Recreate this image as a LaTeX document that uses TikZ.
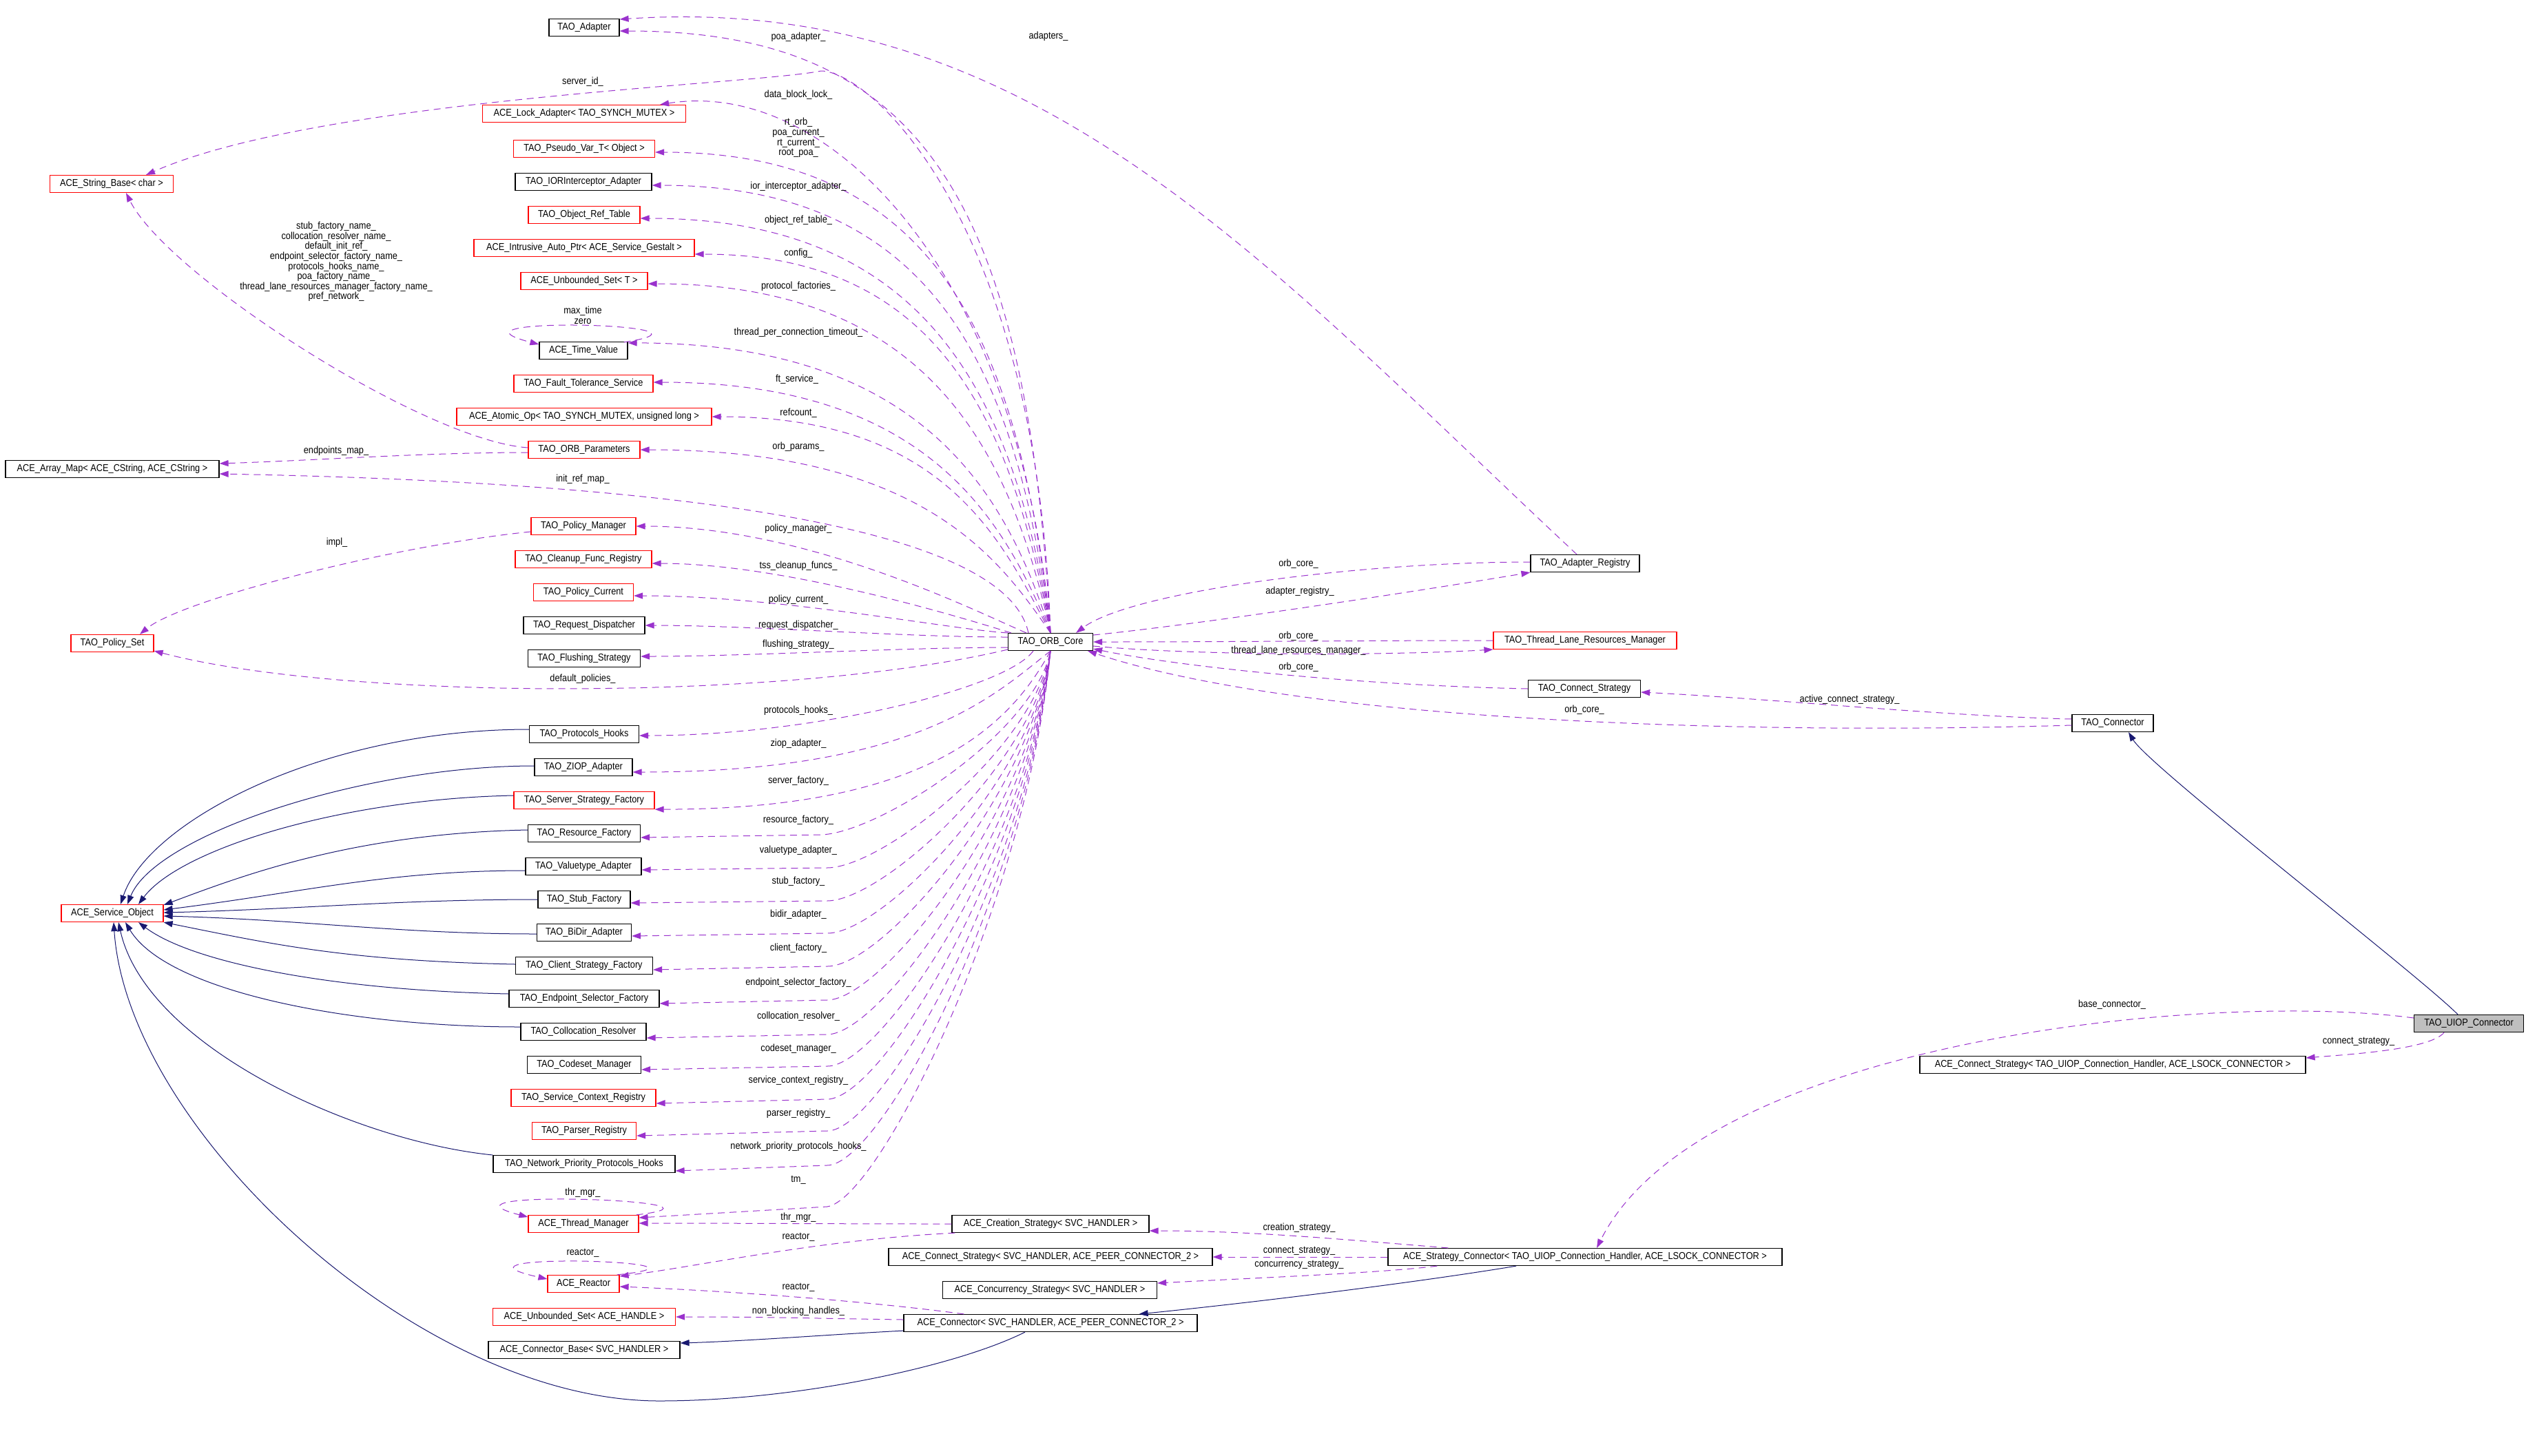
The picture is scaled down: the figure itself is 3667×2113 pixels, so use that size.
\documentclass[tikz,border=0pt]{standalone}
\usepackage{fontspec}
\setmainfont{Liberation Sans}[FakeStretch=0.88]
\usetikzlibrary{arrows.meta,calc}
\definecolor{memc}{HTML}{9A32CD}
\definecolor{inhc}{HTML}{191970}
\newcommand{\boxfnt}{\fontsize{14.5}{14.6}\selectfont}
\begin{document}
\begin{tikzpicture}[x=1pt,y=-1pt,
  cls/.style={draw=black, line width=1.2pt, fill=white, minimum height=25pt, inner xsep=2pt, inner ysep=0pt, font=\boxfnt},
  rcls/.style={cls, draw=red},
  gcls/.style={cls, fill=black!25},
  lbl/.style={font=\boxfnt, inner sep=0pt, align=center},
  mem/.style={draw=memc, line width=1pt, dash pattern=on 10pt off 7pt, -{Triangle[length=13pt,width=9pt]}},
  memr/.style={draw=memc, line width=1pt, dash pattern=on 10pt off 7pt, {Triangle[length=13pt,width=9pt]}-},
  inh/.style={draw=inhc, line width=1pt, -{Triangle[length=13pt,width=9pt]}}]
\fill[white] (0,0) rectangle (3667,2113);
\useasboundingbox (0,0) rectangle (3667,2113);

% ---------- left column ----------
\node[cls, minimum width=102pt] (adapter) at (848,40) {TAO\_Adapter};
\node[rcls, minimum width=295pt] (lock) at (848,165) {ACE\_Lock\_Adapter< TAO\_SYNCH\_MUTEX >};
\node[rcls, minimum width=205pt] (pseudo) at (848,216) {TAO\_Pseudo\_Var\_T< Object >};
\node[cls, minimum width=198pt] (ior) at (847,264) {TAO\_IORInterceptor\_Adapter};
\node[rcls, minimum width=162pt] (objref) at (848,312) {TAO\_Object\_Ref\_Table};
\node[rcls, minimum width=320pt] (intrusive) at (848,360) {ACE\_Intrusive\_Auto\_Ptr< ACE\_Service\_Gestalt >};
\node[rcls, minimum width=184pt] (uset) at (848,408) {ACE\_Unbounded\_Set< T >};
\node[cls, minimum width=128pt] (timeval) at (847,509) {ACE\_Time\_Value};
\node[rcls, minimum width=202pt] (ft) at (847,557) {TAO\_Fault\_Tolerance\_Service};
\node[rcls, minimum width=370pt] (atomic) at (848,605) {ACE\_Atomic\_Op< TAO\_SYNCH\_MUTEX, unsigned long >};
\node[rcls, minimum width=162pt] (orbparams) at (848,653) {TAO\_ORB\_Parameters};
\node[rcls, minimum width=152pt] (policymgr) at (847,764) {TAO\_Policy\_Manager};
\node[rcls, minimum width=198pt] (cleanup) at (847,812) {TAO\_Cleanup\_Func\_Registry};
\node[rcls, minimum width=145pt] (policycur) at (847,860) {TAO\_Policy\_Current};
\node[cls, minimum width=176pt] (reqdisp) at (848,908) {TAO\_Request\_Dispatcher};
\node[cls, minimum width=163pt] (flush) at (848,956) {TAO\_Flushing\_Strategy};
\node[cls, minimum width=159pt] (phooks) at (848,1066) {TAO\_Protocols\_Hooks};
\node[cls, minimum width=142pt] (ziop) at (847,1114) {TAO\_ZIOP\_Adapter};
\node[rcls, minimum width=204pt] (ssf) at (848,1162) {TAO\_Server\_Strategy\_Factory};
\node[cls, minimum width=163pt] (resf) at (848,1210) {TAO\_Resource\_Factory};
\node[cls, minimum width=168pt] (valuetype) at (847,1258) {TAO\_Valuetype\_Adapter};
\node[cls, minimum width=134pt] (stubf) at (848,1306) {TAO\_Stub\_Factory};
\node[cls, minimum width=137pt] (bidir) at (848,1354) {TAO\_BiDir\_Adapter};
\node[cls, minimum width=199pt] (csf) at (848,1402) {TAO\_Client\_Strategy\_Factory};
\node[cls, minimum width=218pt] (esf) at (848,1450) {TAO\_Endpoint\_Selector\_Factory};
\node[cls, minimum width=182pt] (coll) at (847,1498) {TAO\_Collocation\_Resolver};
\node[cls, minimum width=165pt] (codeset) at (848,1546) {TAO\_Codeset\_Manager};
\node[rcls, minimum width=210pt] (scr) at (847,1594) {TAO\_Service\_Context\_Registry};
\node[rcls, minimum width=151pt] (parser) at (848,1642) {TAO\_Parser\_Registry};
\node[cls, minimum width=264pt] (nph) at (848,1690) {TAO\_Network\_Priority\_Protocols\_Hooks};
\node[rcls, minimum width=160pt] (thrmgr) at (847,1777) {ACE\_Thread\_Manager};
\node[rcls, minimum width=104pt] (reactor) at (847,1864) {ACE\_Reactor};
\node[rcls, minimum width=265pt] (usethandle) at (848,1912) {ACE\_Unbounded\_Set< ACE\_HANDLE >};
\node[cls, minimum width=278pt] (connbase) at (848,1960) {ACE\_Connector\_Base< SVC\_HANDLER >};

% ---------- far left ----------
\node[rcls, minimum width=179pt] (strbase) at (162,267) {ACE\_String\_Base< char >};
\node[cls, minimum width=310pt] (arraymap) at (163,681) {ACE\_Array\_Map< ACE\_CString, ACE\_CString >};
\node[rcls, minimum width=120pt] (policyset) at (163,934) {TAO\_Policy\_Set};
\node[rcls, minimum width=148pt] (svcobj) at (163,1326) {ACE\_Service\_Object};

% ---------- center ----------
\node[cls, minimum width=123pt] (orbcore) at (1525,932) {TAO\_ORB\_Core};
\node[cls, minimum width=286pt] (creation) at (1525,1777) {ACE\_Creation\_Strategy< SVC\_HANDLER >};
\node[cls, minimum width=470pt] (connstrat2) at (1525,1825) {ACE\_Connect\_Strategy< SVC\_HANDLER, ACE\_PEER\_CONNECTOR\_2 >};
\node[cls, minimum width=311pt] (concur) at (1524,1873) {ACE\_Concurrency\_Strategy< SVC\_HANDLER >};
\node[cls, minimum width=426pt] (aceconn) at (1525,1921) {ACE\_Connector< SVC\_HANDLER, ACE\_PEER\_CONNECTOR\_2 >};

% ---------- right ----------
\node[cls, minimum width=158pt] (adreg) at (2301,818) {TAO\_Adapter\_Registry};
\node[rcls, minimum width=266pt] (tlrm) at (2301,930) {TAO\_Thread\_Lane\_Resources\_Manager};
\node[cls, minimum width=163pt] (tcs) at (2300,1000) {TAO\_Connect\_Strategy};
\node[cls, minimum width=118pt] (taoconn) at (3067,1050) {TAO\_Connector};
\node[gcls, minimum width=159pt] (uiop) at (3584,1486) {TAO\_UIOP\_Connector};
\node[cls, minimum width=560pt] (uiopcs) at (3067,1546) {ACE\_Connect\_Strategy< TAO\_UIOP\_Connection\_Handler, ACE\_LSOCK\_CONNECTOR >};
\node[cls, minimum width=572pt] (stratconn) at (2301,1825) {ACE\_Strategy\_Connector< TAO\_UIOP\_Connection\_Handler, ACE\_LSOCK\_CONNECTOR >};

% waypoints
\coordinate (wsid) at (1192,103);
\coordinate (wsvc) at (957,2034);

% ---------- member edges from ORB core, upper ----------
\draw[mem] (orbcore.north) .. controls +(-36,-639) and +(432,0) .. ($(adapter.east)+(0,5)$);
\draw[mem] (orbcore.north) .. controls +(-20,-600) and +(70,0) .. (wsid) .. controls +(-100,20) and +(250,-110) .. ($(strbase.north)+(50,0)$);
\draw[mem] (orbcore.north) .. controls +(-43,-515) and +(250,-40) .. ($(lock.north east)+(-38,0)$);
\draw[mem] (orbcore.north) .. controls +(-47,-443) and +(397,0) .. ($(pseudo.east)+(0,5)$);
\draw[mem] (orbcore.north) .. controls +(-50,-396) and +(400,0) .. ($(ior.east)+(0,5)$);
\draw[mem] (orbcore.north) .. controls +(-53,-351) and +(411,0) .. ($(objref.east)+(0,5)$);
\draw[mem] (orbcore.north) .. controls +(-56,-305) and +(357,0) .. ($(intrusive.east)+(0,9)$);
\draw[mem] (orbcore.north) .. controls +(-59,-269) and +(404,0) .. ($(uset.east)+(0,4)$);
\draw[mem] (orbcore.north) .. controls +(-64,-206) and +(424,0) .. ($(timeval.north east)+(0,2)$);
\draw[mem] (orbcore.north) .. controls +(-68,-165) and +(398,0) .. ($(ft.east)+(0,-2)$);
\draw[mem] (orbcore.north) .. controls +(-71,-134) and +(339,0) .. (atomic.east);
\draw[mem] (orbcore.north) .. controls +(-74,-107) and +(411,0) .. (orbparams.east);
\draw[mem] ($(orbcore.north west)+(30,0)$) .. controls +(-34,-160) and +(632,12) .. ($(arraymap.east)+(0,7)$);
\draw[mem] ($(orbcore.north west)+(27,0)$) .. controls +(-71,-30) and +(250,0) .. (policymgr.east);
\draw[mem] ($(orbcore.north west)+(5,0)$) .. controls +(-49,-15) and +(200,0) .. ($(cleanup.east)+(0,6)$);
\draw[mem] (orbcore.north west) .. controls +(-84,-5) and +(210,0) .. ($(policycur.east)+(0,5)$);
\draw[mem] ($(orbcore.west)+(0,-7)$) .. controls +(-150,0) and +(150,0) .. (reqdisp.east);
\draw[mem] ($(orbcore.west)+(0,8)$) .. controls +(-150,0) and +(150,0) .. ($(flush.east)+(0,-3)$);
\draw[mem] ($(orbcore.west)+(0,11)$) .. controls +(-314,75) and +(277,73) .. ($(policyset.east)+(0,11)$);

% ---------- member edges from ORB core, lower ----------
\draw[mem] ($(orbcore.south)+(-25,0)$) .. controls +(-40,55) and +(250,0) .. ($(phooks.east)+(0,2)$);
\draw[mem] (orbcore.south) .. controls +(-80,62) and +(416,0) .. ($(ziop.east)+(0,7)$);
\draw[mem] (orbcore.south) .. controls +(-60,110) and +(394,0) .. (ssf.south east);
\draw[memr] ($(resf.east)+(0,6)$) -- ++(260,-4) .. controls +(80,0) and +(-25,122) .. (orbcore.south);
\draw[memr] ($(valuetype.east)+(0,5)$) -- ++(269,-3) .. controls +(80,0) and +(-25,143) .. (orbcore.south);
\draw[memr] ($(stubf.east)+(0,5)$) -- ++(285,-3) .. controls +(80,0) and +(-25,165) .. (orbcore.south);
\draw[memr] ($(bidir.east)+(0,5)$) -- ++(284,-4) .. controls +(80,0) and +(-25,186) .. (orbcore.south);
\draw[memr] ($(csf.east)+(0,6)$) -- ++(253,-5) .. controls +(80,0) and +(-28,208) .. (orbcore.south);
\draw[memr] ($(esf.east)+(0,7)$) -- ++(243,-5) .. controls +(80,0) and +(-28,230) .. (orbcore.south);
\draw[memr] ($(coll.east)+(0,9)$) -- ++(262,-5) .. controls +(80,0) and +(-30,253) .. (orbcore.south);
\draw[memr] ($(codeset.east)+(0,7)$) -- ++(270,-5) .. controls +(80,0) and +(-30,274) .. (orbcore.south);
\draw[memr] ($(scr.east)+(0,8)$) -- ++(248,-6) .. controls +(80,0) and +(-32,296) .. (orbcore.south);
\draw[memr] ($(parser.east)+(0,7)$) -- ++(277,-7) .. controls +(80,0) and +(-32,317) .. (orbcore.south);
\draw[memr] ($(nph.east)+(0,10)$) -- ++(220,-8) .. controls +(80,0) and +(-34,340) .. (orbcore.south);
\draw[memr] ($(thrmgr.east)+(0,-9)$) -- ++(273,-16) .. controls +(75,-10) and +(-36,370) .. (orbcore.south);

% ---------- other member edges, left ----------
\draw[mem] ($(policymgr.west)+(0,8)$) .. controls +(-200,20) and +(60,-50) .. ($(policyset.north)+(40,0)$);
\draw[mem] ($(orbparams.west)+(0,-3)$) .. controls +(-150,-10) and +(60,120) .. ($(strbase.south)+(21,0)$);
\draw[mem] ($(orbparams.west)+(0,4)$) .. controls +(-150,0) and +(150,-5) .. ($(arraymap.east)+(0,-8)$);
\draw[mem] ($(adreg.north)+(-12,0)$) .. controls +(-450,-420) and +(600,-40) .. ($(adapter.east)+(0,-12)$);
\draw[mem] ($(timeval.north east)+(-6,1)$) .. controls +(175,-27) and +(-163,-42) .. ($(timeval.west)+(0,-9)$);
\draw[mem] ($(thrmgr.north east)+(-4,0)$) .. controls +(179,-21) and +(-163,-42) .. ($(thrmgr.west)+(0,-10)$);
\draw[mem] ($(reactor.north east)+(-4,0)$) .. controls +(190,-20) and +(-180,-40) .. ($(reactor.west)+(0,-7)$);
\draw[mem] (creation.west) .. controls +(-150,0) and +(150,0) .. ($(thrmgr.east)+(0,-1)$);
\draw[mem] ($(creation.south west)+(5,0)$) .. controls +(-200,10) and +(120,-15) .. ($(reactor.east)+(0,-11)$);
\draw[mem] ($(aceconn.north west)+(88,0)$) .. controls +(-150,-20) and +(150,6) .. ($(reactor.east)+(0,4)$);
\draw[mem] ($(aceconn.west)+(0,-5)$) .. controls +(-150,-2) and +(150,0) .. (usethandle.east);

% ---------- member edges, right ----------
\draw[mem] ($(adreg.west)+(0,-2)$) .. controls +(-250,0) and +(80,-60) .. ($(orbcore.north east)+(-25,0)$);
\draw[mem] ($(orbcore.east)+(0,-10)$) .. controls +(150,-15) and +(-180,30) .. (adreg.south west);
\draw[mem] (tlrm.west) .. controls +(-200,0) and +(200,0) .. (orbcore.east);
\draw[mem] ($(orbcore.east)+(0,6)$) .. controls +(150,14) and +(-150,9) .. ($(tlrm.west)+(0,13)$);
\draw[mem] (tcs.west) .. controls +(-250,-5) and +(120,25) .. ($(orbcore.east)+(0,10)$);
\draw[mem] ($(taoconn.west)+(0,3)$) .. controls +(-500,15) and +(300,100) .. ($(orbcore.south east)+(-8,0)$);
\draw[mem] ($(taoconn.west)+(0,-6)$) .. controls +(-200,-5) and +(200,10) .. ($(tcs.east)+(0,5)$);
\draw[mem] ($(uiop.west)+(0,-8)$) .. controls +(-300,-40) and +(150,-300) .. ($(stratconn.north)+(17,0)$);
\draw[mem] ($(uiop.south)+(-36,0)$) .. controls +(-20,25) and +(60,-5) .. ($(uiopcs.east)+(0,-10)$);
\draw[mem] ($(stratconn.north west)+(88,0)$) .. controls +(-150,-12) and +(150,0) .. ($(creation.east)+(0,10)$);
\draw[mem] (stratconn.west) -- (connstrat2.east);
\draw[mem] ($(stratconn.south west)+(72,0)$) .. controls +(-80,10) and +(150,-8) .. ($(concur.east)+(0,-10)$);

% ---------- inheritance ----------
\draw[inh] ($(uiop.north)+(-16,0)$) .. controls +(-60,-60) and +(30,50) .. ($(taoconn.south)+(23,0)$);
\draw[inh] ($(stratconn.south)+(-100,0)$) .. controls +(-150,25) and +(150,-15) .. ($(aceconn.north east)+(-85,0)$);
\draw[inh] ($(aceconn.south west)+(0,-2)$) .. controls +(-100,5) and +(100,-3) .. ($(connbase.east)+(0,-10)$);
\draw[inh] ($(aceconn.south)+(-37,0)$) .. controls +(-100,50) and +(200,0) .. (wsvc) .. controls +(-350,0) and +(20,300) .. ($(svcobj.south)+(2,0)$);
\draw[inh] ($(phooks.west)+(0,-7)$) .. controls +(-300,0) and +(40,-120) .. ($(svcobj.north)+(12,0)$);
\draw[inh] ($(ziop.west)+(0,-2)$) .. controls +(-250,0) and +(40,-100) .. ($(svcobj.north)+(22,0)$);
\draw[inh] ($(ssf.west)+(0,-7)$) .. controls +(-250,5) and +(60,-80) .. ($(svcobj.north)+(38,0)$);
\draw[inh] ($(resf.west)+(0,-5)$) .. controls +(-250,5) and +(120,-45) .. ($(svcobj.east)+(0,-12)$);
\draw[inh] ($(valuetype.west)+(0,6)$) .. controls +(-200,0) and +(200,-25) .. ($(svcobj.east)+(0,-5)$);
\draw[inh] (stubf.west) .. controls +(-200,0) and +(200,-5) .. ($(svcobj.east)+(0,-1)$);
\draw[inh] ($(bidir.west)+(0,2)$) .. controls +(-200,0) and +(200,5) .. ($(svcobj.east)+(0,4)$);
\draw[inh] ($(csf.west)+(0,-2)$) .. controls +(-250,-5) and +(150,30) .. (svcobj.south east);
\draw[inh] ($(esf.west)+(0,-7)$) .. controls +(-250,-5) and +(80,60) .. ($(svcobj.south)+(38,0)$);
\draw[inh] ($(coll.west)+(0,-7)$) .. controls +(-250,0) and +(60,100) .. ($(svcobj.south)+(19,0)$);
\draw[inh] ($(nph.west)+(0,-13)$) .. controls +(-200,-20) and +(40,180) .. ($(svcobj.south)+(9,0)$);

% ---------- labels ----------
\node[lbl] (l01) at (1522,53) {adapters\_};
\node[lbl] (l02) at (1159,54) {poa\_adapter\_};
\node[lbl] (l03) at (846,119) {server\_id\_};
\node[lbl] (l04) at (1159,138) {data\_block\_lock\_};
\node[lbl] (l05) at (1159,200) {rt\_orb\_\\poa\_current\_\\rt\_current\_\\root\_poa\_};
\node[lbl] (l06) at (1159,271) {ior\_interceptor\_adapter\_};
\node[lbl] (l07) at (1159,320) {object\_ref\_table\_};
\node[lbl] (l08) at (1159,368) {config\_};
\node[lbl] (l09) at (1159,416) {protocol\_factories\_};
\node[lbl] (l10) at (1159,483) {thread\_per\_connection\_timeout\_};
\node[lbl] (l11) at (1157,551) {ft\_service\_};
\node[lbl] (l12) at (1159,600) {refcount\_};
\node[lbl] (l13) at (1159,649) {orb\_params\_};
\node[lbl] (l14) at (846,458) {max\_time\\zero};
\node[lbl] (l15) at (488,380) {stub\_factory\_name\_\\collocation\_resolver\_name\_\\default\_init\_ref\_\\endpoint\_selector\_factory\_name\_\\protocols\_hooks\_name\_\\poa\_factory\_name\_\\thread\_lane\_resources\_manager\_factory\_name\_\\pref\_network\_};
\node[lbl] (l16) at (488,655) {endpoints\_map\_};
\node[lbl] (l17) at (846,696) {init\_ref\_map\_};
\node[lbl] (l18) at (489,788) {impl\_};
\node[lbl] (l19) at (1159,768) {policy\_manager\_};
\node[lbl] (l20) at (1159,822) {tss\_cleanup\_funcs\_};
\node[lbl] (l21) at (1159,871) {policy\_current\_};
\node[lbl] (l22) at (1159,908) {request\_dispatcher\_};
\node[lbl] (l23) at (1159,936) {flushing\_strategy\_};
\node[lbl] (l24) at (846,986) {default\_policies\_};
\node[lbl] (l25) at (1159,1032) {protocols\_hooks\_};
\node[lbl] (l26) at (1159,1080) {ziop\_adapter\_};
\node[lbl] (l27) at (1159,1134) {server\_factory\_};
\node[lbl] (l28) at (1159,1191) {resource\_factory\_};
\node[lbl] (l29) at (1159,1235) {valuetype\_adapter\_};
\node[lbl] (l30) at (1159,1280) {stub\_factory\_};
\node[lbl] (l31) at (1159,1328) {bidir\_adapter\_};
\node[lbl] (l32) at (1159,1377) {client\_factory\_};
\node[lbl] (l33) at (1159,1427) {endpoint\_selector\_factory\_};
\node[lbl] (l34) at (1159,1476) {collocation\_resolver\_};
\node[lbl] (l35) at (1159,1523) {codeset\_manager\_};
\node[lbl] (l36) at (1159,1569) {service\_context\_registry\_};
\node[lbl] (l37) at (1159,1617) {parser\_registry\_};
\node[lbl] (l38) at (1159,1665) {network\_priority\_protocols\_hooks\_};
\node[lbl] (l39) at (1159,1713) {tm\_};
\node[lbl] (l40) at (846,1732) {thr\_mgr\_};
\node[lbl] (l41) at (1159,1768) {thr\_mgr\_};
\node[lbl] (l42) at (1159,1796) {reactor\_};
\node[lbl] (l43) at (846,1819) {reactor\_};
\node[lbl] (l44) at (1159,1869) {reactor\_};
\node[lbl] (l45) at (1159,1904) {non\_blocking\_handles\_};
\node[lbl] (l46) at (1885,819) {orb\_core\_};
\node[lbl] (l47) at (1887,859) {adapter\_registry\_};
\node[lbl] (l48) at (1885,924) {orb\_core\_};
\node[lbl] (l49) at (1885,945) {thread\_lane\_resources\_manager\_};
\node[lbl] (l50) at (1885,969) {orb\_core\_};
\node[lbl] (l51) at (2300,1031) {orb\_core\_};
\node[lbl] (l52) at (2685,1016) {active\_connect\_strategy\_};
\node[lbl] (l53) at (3066,1459) {base\_connector\_};
\node[lbl] (l54) at (3424,1512) {connect\_strategy\_};
\node[lbl] (l55) at (1886,1783) {creation\_strategy\_};
\node[lbl] (l56) at (1886,1816) {connect\_strategy\_};
\node[lbl] (l57) at (1886,1836) {concurrency\_strategy\_};
\end{tikzpicture}
\end{document}
